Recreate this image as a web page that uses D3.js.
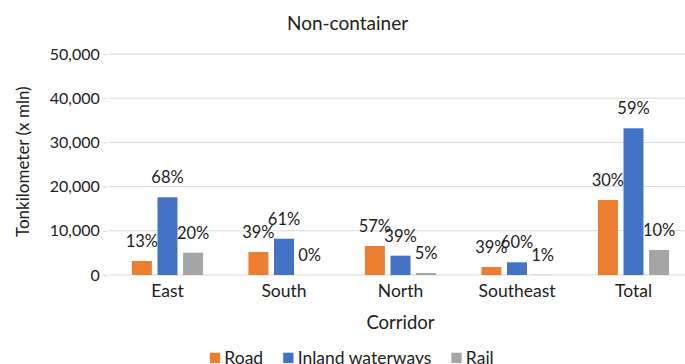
<!DOCTYPE html>
<html>
<head>
<meta charset="utf-8">
<script src="https://cdn.jsdelivr.net/npm/d3@7"></script>
<style>
  html, body { margin: 0; padding: 0; background: #fff; }
  svg { display: block; }
  text { font-family: Lato, "Open Sans", sans-serif; fill: #222; }
</style>
</head>
<body>
<svg id="chart" width="685" height="364"></svg>
<script>
// Freight volume per corridor, tonkilometer (x mln)
const corridors = ["East", "South", "North", "Southeast", "Total"];
const seriesNames = ["Road", "Inland waterways", "Rail"];
const seriesColors = ["#ED7D31", "#4472C4", "#A5A5A5"];
const roadValues = [3170, 5200, 6560, 1810, 16970];
const waterwayValues = [17580, 8210, 4370, 2870, 33190];
const railValues = [5050, 0, 450, 50, 5660];
// Modal share labels per corridor (%)
const roadShares = [13, 39, 57, 39, 30];
const waterwayShares = [68, 61, 39, 60, 59];
const railShares = [20, 0, 5, 1, 10];
const yTicks = [0, 10000, 20000, 30000, 40000, 50000];

const values = [roadValues, waterwayValues, railValues];
const shares = [roadShares, waterwayShares, railShares];

const svg = d3.select("#chart");
const plot = { left: 109.25, right: 691.75, top: 54, bottom: 275 };

const x0 = d3.scaleBand().domain(corridors).range([plot.left, plot.right]).padding(0);
const x1 = d3.scaleBand().domain(d3.range(seriesNames.length))
  .range([0, x0.bandwidth()]).paddingInner(0.22).paddingOuter(0.885);
const y = d3.scaleLinear().domain([0, 50000]).range([plot.bottom, plot.top]);
const fmt = d3.format(",");

// horizontal gridlines
svg.append("g").selectAll("line").data(yTicks).join("line")
  .attr("x1", plot.left).attr("x2", plot.right)
  .attr("y1", d => y(d)).attr("y2", d => y(d))
  .attr("stroke", "#D9D9D9").attr("stroke-width", 1);

// y axis labels with small ticks
const yAxis = d3.axisLeft(y).tickValues(yTicks).tickFormat(fmt).tickSize(4.5).tickPadding(3);
const gy = svg.append("g").attr("transform", `translate(${plot.left - 2},0)`).call(yAxis);
gy.select(".domain").remove();
gy.selectAll(".tick line").attr("stroke", "#D9D9D9");
gy.selectAll(".tick text").style("font-size", "16px").style("font-family", "Lato, sans-serif").attr("fill", "#222");

// x axis labels
const xAxis = d3.axisBottom(x0).tickSize(0).tickPadding(10);
const gx = svg.append("g").attr("transform", `translate(0,${plot.bottom})`).call(xAxis);
gx.select(".domain").remove();
gx.selectAll(".tick text").style("font-size", "17.5px").style("font-family", "Lato, sans-serif").attr("fill", "#222");

// bars and share labels
const groups = svg.append("g").selectAll("g").data(corridors).join("g")
  .attr("transform", d => `translate(${x0(d)},0)`);

seriesNames.forEach((name, s) => {
  groups.append("rect")
    .attr("x", x1(s))
    .attr("width", x1.bandwidth())
    .attr("y", (d, i) => y(values[s][i]))
    .attr("height", (d, i) => plot.bottom - y(values[s][i]))
    .attr("fill", seriesColors[s]);
  groups.append("text")
    .attr("x", x1(s) + x1.bandwidth() / 2)
    .attr("y", (d, i) => y(values[s][i]) - 14)
    .attr("text-anchor", "middle")
    .style("font-size", "16.5px")
    .text((d, i) => shares[s][i] + "%");
});

// titles
svg.append("text").attr("x", 347.5).attr("y", 29.5).attr("text-anchor", "middle")
  .style("font-size", "19px").text("Non-container");
svg.append("text").attr("x", (plot.left + plot.right) / 2).attr("y", 329).attr("text-anchor", "middle")
  .style("font-size", "18.5px").text("Corridor");
svg.append("text").attr("transform", "translate(28.5,161.7) rotate(-90)").attr("text-anchor", "middle")
  .style("font-size", "17px").text("Tonkilometer (x mln)");

// legend
const legend = svg.append("g");
let lx = 0;
seriesNames.forEach((name, s) => {
  const item = legend.append("g").attr("transform", `translate(${lx},0)`);
  item.append("rect").attr("x", 0).attr("y", 352.7).attr("width", 10.3).attr("height", 10.3).attr("fill", seriesColors[s]);
  const t = item.append("text").attr("x", 14.5).attr("y", 364).style("font-size", "17.5px").text(name);
  lx += 14.5 + t.node().getComputedTextLength() + 20;
});
const legendWidth = lx - 20;
legend.attr("transform", `translate(${351.8 - legendWidth / 2},0)`);
</script>
</body>
</html>
